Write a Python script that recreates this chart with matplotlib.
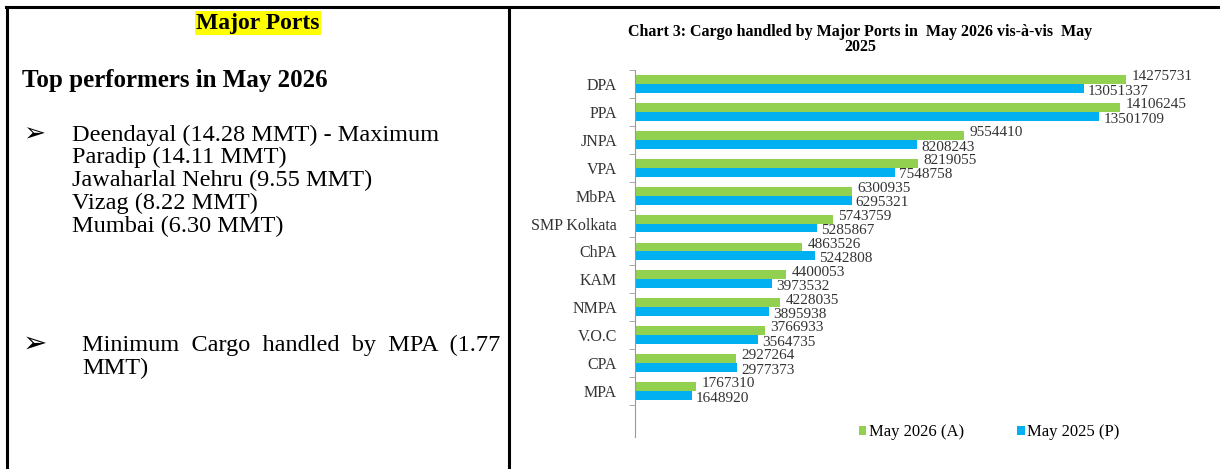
import numpy as np
import matplotlib.pyplot as plt
from matplotlib.lines import Line2D

# dados do gráfico
ports = ['DPA', 'PPA', 'JNPA', 'VPA', 'MbPA', 'SMP Kolkata', 'ChPA', 'KAM',
         'NMPA', 'V.O.C', 'CPA', 'MPA']
may_2026 = [14275731, 14106245, 9554410, 8219055, 6300935, 5743759, 4863526,
            4400053, 4228035, 3766933, 2927264, 1767310]
may_2025 = [13051337, 13501709, 8208243, 7548758, 6295321, 5285867, 5242808,
            3973532, 3895938, 3564735, 2977373, 1648920]
legend_labels = ['May 2026 (A)', 'May 2025 (P)']

bullets_top = ['Deendayal (14.28 MMT) - Maximum', 'Paradip (14.11 MMT)',
               'Jawaharlal Nehru (9.55 MMT)', 'Vizag (8.22 MMT)',
               'Mumbai (6.30 MMT)']

green = '#92D050'
blue = '#00B0F0'
serif = ['Liberation Serif', 'DejaVu Serif']

W, H = 1220, 469
fig = plt.figure(figsize=(W/100, H/100), dpi=100)


def fx(px):
    return px / W


def fy(py):
    return 1 - py / H


# bordas da tabela
for (x0, y0, x1, y1) in [(6, 7, 1220, 7), (7, 7, 7, 469), (509, 7, 509, 469)]:
    fig.add_artist(Line2D([fx(x0), fx(x1)], [fy(y0), fy(y1)], color='k',
                          lw=2.2, transform=fig.transFigure))

# painel da esquerda
fig.text(fx(258), fy(23), 'Major Ports', ha='center', va='center',
         fontsize=17, fontweight='bold', family=serif,
         bbox=dict(facecolor='#FFFF00', edgecolor='none', pad=1.0))
fig.text(fx(22), fy(80), 'Top performers in May 2026', ha='left', va='center',
         fontsize=18, fontweight='bold', family=serif)

fig.text(fx(23), fy(134), '\u27a2', ha='left', va='center', fontsize=19,
         family=['DejaVu Sans'])
for i, s in enumerate(bullets_top):
    fig.text(fx(72), fy(135 + i*22.8), s, ha='left', va='center',
             fontsize=17.5, family=serif)

fig.text(fx(23), fy(344), '\u27a2', ha='left', va='center', fontsize=21,
         family=['DejaVu Sans'])
fig.text(fx(82), fy(345), 'Minimum  Cargo  handled  by  MPA  (1.77', ha='left',
         va='center', fontsize=17.5, family=serif)
fig.text(fx(82), fy(368), 'MMT)', ha='left', va='center', fontsize=17.5,
         family=serif)

# gráfico de barras
ax_left, ax_right, ax_top, ax_bot = 635, 1200, 70, 437
ax = fig.add_axes([fx(ax_left), fy(ax_bot), fx(ax_right - ax_left),
                   (ax_bot - ax_top) / H])
scale = 491 / 14275731  # px por unidade
ax.set_xlim(0, (ax_right - ax_left) / scale)

y = np.arange(len(ports))
h = 0.32
ax.barh(y - h/2, may_2026, height=h, color=green, label=legend_labels[0])
ax.barh(y + h/2, may_2025, height=h, color=blue, label=legend_labels[1])

slot = 27.9
ax.set_ylim(11.5 + (ax_bot - 405) / slot, -0.5)

for i in range(len(ports)):
    ax.annotate(str(may_2026[i]), (may_2026[i], y[i] - h/2), xytext=(4, 2),
                textcoords='offset points', ha='left', va='center',
                fontsize=11, family=serif, color='#333333')
    ax.annotate(str(may_2025[i]), (may_2025[i], y[i] + h/2), xytext=(3, -2),
                textcoords='offset points', ha='left', va='center',
                fontsize=11, family=serif, color='#333333')

ax.set_yticks(y)
ax.set_yticklabels(ports, family=serif, fontsize=11.5, color='#333333')
ax.tick_params(axis='y', length=0, pad=13)
ax.set_yticks(np.arange(-0.5, 12, 1), minor=True)
ax.tick_params(axis='y', which='minor', length=4, direction='out',
               color='#999999')
ax.set_xticks([])
for side in ['top', 'right', 'bottom']:
    ax.spines[side].set_visible(False)
ax.spines['left'].set_color('#999999')
ax.spines['left'].set_linewidth(0.8)

leg = ax.legend(loc='center', bbox_to_anchor=(fx(989), fy(432)),
                bbox_transform=fig.transFigure, ncol=2, frameon=False,
                prop={'family': serif, 'size': 12}, handlelength=0.45,
                handleheight=0.45, columnspacing=3.2, handletextpad=0.15)

fig.text(fx(860), fy(32), 'Chart 3: Cargo handled by Major Ports in  May 2026 '
         'vis-à-vis  May', ha='center', va='center', fontsize=11.5,
         fontweight='bold', family=serif)
fig.text(fx(860), fy(47), '2025', ha='center', va='center', fontsize=11.5,
         fontweight='bold', family=serif)

plt.savefig('out.png', dpi=100)
